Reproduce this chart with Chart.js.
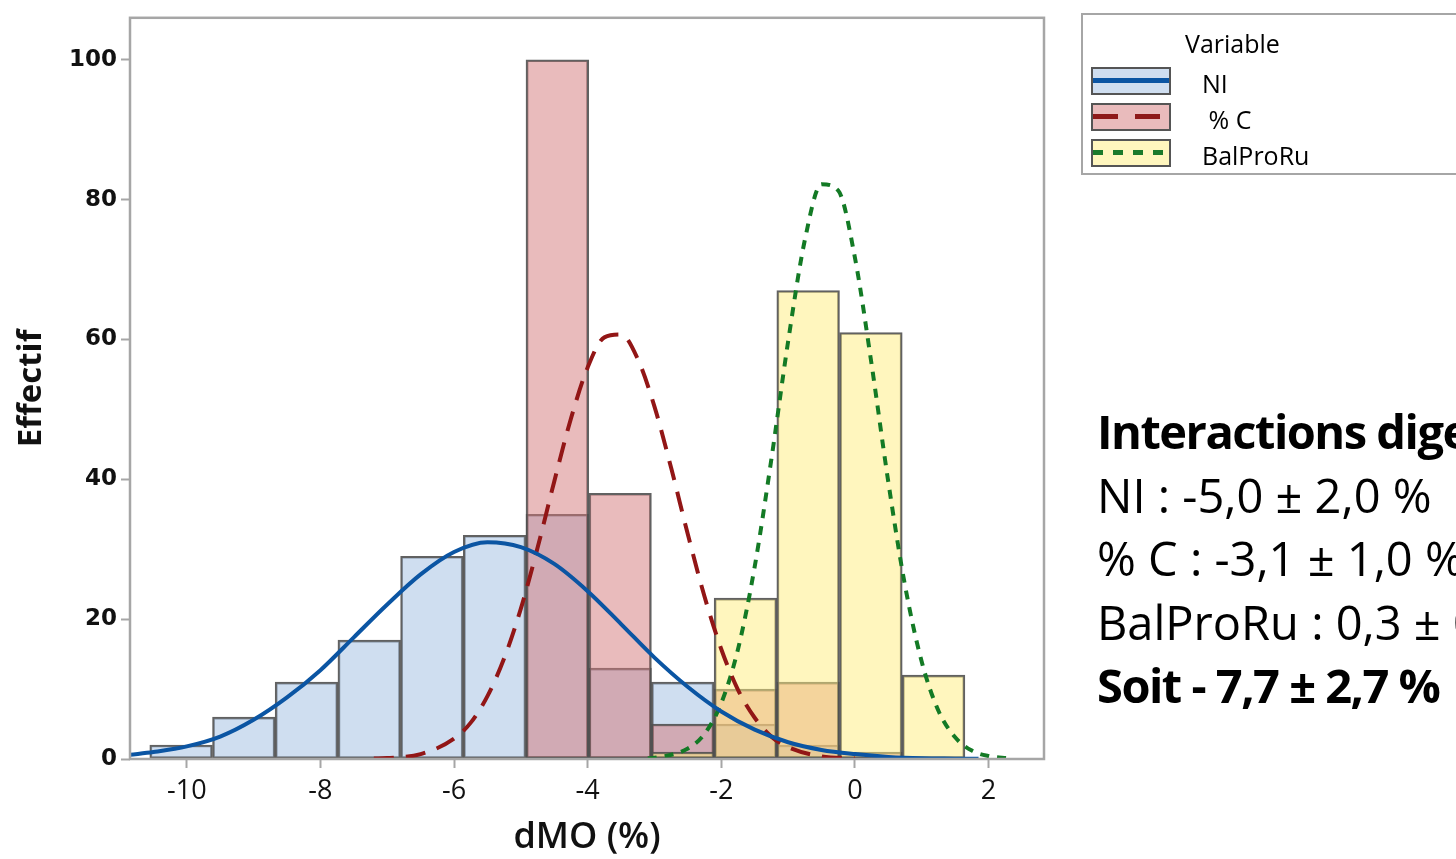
<!DOCTYPE html>
<html>
<head>
<meta charset="utf-8">
<title>dMO (%)</title>
<script src="https://cdn.jsdelivr.net/npm/chart.js@4.4.1/dist/chart.umd.min.js"></script>
<style>
    body { margin: 0; width: 1456px; height: 859px; overflow: hidden; background: #fff; position: relative; font-family: "Open Sans", sans-serif; color: #000; }
    #wrap { position: absolute; left: 0; top: 0; width: 1456px; height: 859px; }
    #legend { position: absolute; left: 1081px; top: 13px; width: 420px; height: 158px; border: 2px solid #a6a6a6; font-size: 25px; }
    #legend .title { position: absolute; left: 102px; top: 10px; line-height: 36px; }
    #legend .sw { position: absolute; left: 8px; width: 76px; height: 24px; border: 2px solid #555; }
    #legend .sw div { position: absolute; left: 0; right: 0; top: 9px; height: 5px; }
    #legend .lab { position: absolute; left: 119px; line-height: 36px; white-space: pre; }
    #notes { position: absolute; left: 1097px; top: 400px; font-size: 47px; line-height: 63.5px; white-space: pre; }
    #notes b { font-weight: 700; letter-spacing: -1.5px; }
</style>
</head>
<body>
<div id="wrap"><canvas id="hist"></canvas></div>

<div id="legend">
    <div class="title">Variable</div>
    <div class="sw" style="top:52px;background:#cfdef0"><div style="background:#0b55a3"></div></div>
    <div class="lab" style="top:50px">NI</div>
    <div class="sw" style="top:88px;background:#e9bbbc"><div style="background:repeating-linear-gradient(90deg,#8e1a1a 0 25px,transparent 25px 42px)"></div></div>
    <div class="lab" style="top:86px"> % C</div>
    <div class="sw" style="top:124px;background:#fff6be"><div style="background:repeating-linear-gradient(90deg,#1b7a2b 0 10px,transparent 10px 20px)"></div></div>
    <div class="lab" style="top:122px">BalProRu</div>
</div>

<div id="notes"><b>Interactions digestives</b>
NI : -5,0 ± 2,0 %
% C : -3,1 ± 1,0 %
BalProRu : 0,3 ± 0
<b>Soit - 7,7 ± 2,7 %</b></div>

<script>
// histogram bins (centres, dMO %)
var binCenters = [-10.085, -9.146, -8.208, -7.269, -6.331, -5.392, -4.454, -3.515, -2.577, -1.638, -0.700, 0.239, 1.177];
var niCounts   = [2, 6, 11, 17, 29, 32, 35, 13, 11, 5, 2, null, null];
var pcCounts   = [null, null, null, null, null, null, 100, 38, 5, 10, 11, 1, null];
var balCounts  = [null, null, null, null, null, null, null, null, 1, 23, 67, 61, 12];

// fitted normal curves
var niCurveX  = [-10.85, -10.5, -10, -9.5, -9, -8.5, -8, -7.5, -7, -6.5, -6, -5.5, -5, -4.5, -4, -3.5, -3, -2.5, -2, -1.5, -1, -0.5, 0, 0.5, 1, 1.5, 1.85];
var niCurveY  = [0.6, 1.0, 1.8, 3.2, 5.6, 8.8, 12.7, 17.4, 22.1, 26.4, 29.6, 31.0, 30.3, 27.9, 24.0, 19.3, 14.5, 10.3, 6.8, 4.2, 2.4, 1.3, 0.7, 0.3, 0.1, 0.05, 0.02];
var pcCurveX  = [-7.2, -7, -6.5, -6, -5.75, -5.5, -5.25, -5, -4.75, -4.5, -4.25, -4, -3.75, -3.5, -3.25, -3, -2.75, -2.5, -2.25, -2, -1.75, -1.5, -1.25, -1, -0.5, 0];
var pcCurveY  = [0.06, 0.13, 0.7, 2.9, 5.2, 9.0, 14.4, 21.5, 30.2, 39.7, 48.7, 56.0, 60.3, 60.7, 57.2, 50.4, 41.6, 32.1, 23.2, 15.7, 9.9, 5.9, 3.2, 1.7, 0.37, 0.06];
var balCurveX = [-3.1, -3, -2.5, -2.25, -2, -1.75, -1.5, -1.25, -1, -0.75, -0.5, -0.25, 0, 0.25, 0.5, 0.75, 1, 1.25, 1.5, 1.75, 2, 2.3];
var balCurveY = [0.1, 0.17, 1.5, 3.6, 8.0, 15.7, 27.5, 42.9, 59.7, 74.2, 82.2, 81.3, 71.7, 56.4, 39.6, 24.8, 13.9, 6.9, 3.1, 1.2, 0.43, 0.1];

var xTicks = [-10, -8, -6, -4, -2, 0, 2];
var yTicks = [0, 20, 40, 60, 80, 100];

function toPoints(xs, ys) {
    var pts = [];
    for (var i = 0; i < xs.length; i++) {
        pts.push({ x: xs[i], y: ys[i] });
    }
    return pts;
}

function barSet(label, counts, fill, order) {
    return {
        type: "bar",
        label: label,
        data: toPoints(binCenters, counts),
        backgroundColor: fill,
        borderColor: "rgba(80,80,80,0.9)",
        borderWidth: 2,
        borderSkipped: false,
        barPercentage: 1,
        categoryPercentage: 1,
        grouped: false,
        order: order
    };
}

function curveSet(label, xs, ys, color, dash, order) {
    return {
        type: "line",
        label: label,
        data: toPoints(xs, ys),
        borderColor: color,
        borderWidth: 4,
        borderDash: dash,
        pointRadius: 0,
        fill: false,
        cubicInterpolationMode: "monotone",
        order: order
    };
}

var framePlugin = {
    id: "frame",
    afterDatasetsDraw: function (chart) {
        var a = chart.chartArea;
        var ctx = chart.ctx;
        ctx.save();
        ctx.strokeStyle = "#a6a6a6";
        ctx.lineWidth = 2.5;
        ctx.strokeRect(a.left, a.top, a.right - a.left, a.bottom - a.top);
        ctx.restore();
    }
};

new Chart("hist", {
    type: "bar",
    data: {
        datasets: [
            curveSet("NI", niCurveX, niCurveY, "#0b55a3", [], 1),
            curveSet("% C", pcCurveX, pcCurveY, "#921616", [20, 12], 2),
            curveSet("BalProRu", balCurveX, balCurveY, "#137a25", [9, 8], 3),
            barSet("BalProRu", balCounts, "rgba(255,237,125,0.5)", 4),
            barSet("% C", pcCounts, "rgba(211,119,121,0.5)", 5),
            barSet("NI", niCounts, "rgba(159,189,225,0.5)", 6)
        ]
    },
    options: {
        responsive: true,
        maintainAspectRatio: false,
        animation: false,
        events: [],
        layout: { padding: { left: 0, right: 412, top: 14, bottom: 0 } },
        plugins: { legend: { display: false }, tooltip: { enabled: false } },
        scales: {
            x: {
                type: "linear",
                min: -10.85,
                max: 2.83,
                offset: false,
                afterFit: function (scale) { scale.height = 100; },
                afterBuildTicks: function (scale) {
                    scale.ticks = xTicks.map(function (v) { return { value: v }; });
                },
                grid: { offset: false, drawOnChartArea: false, tickLength: 9, tickWidth: 2, tickColor: "#a6a6a6" },
                border: { display: false },
                ticks: { color: "#111", padding: 7, font: { family: "Open Sans", size: 27 } },
                title: { display: true, text: "dMO (%)", color: "#111", padding: 0, font: { family: "Open Sans", size: 36, weight: "600" } }
            },
            y: {
                min: 0,
                max: 106,
                afterFit: function (scale) { scale.width = 130; },
                afterBuildTicks: function (scale) {
                    scale.ticks = yTicks.map(function (v) { return { value: v }; });
                },
                grid: { drawOnChartArea: false, tickLength: 9, tickWidth: 2, tickColor: "#a6a6a6" },
                border: { display: false },
                ticks: { color: "#111", padding: 4, font: { family: "DejaVu Sans", size: 23, weight: "bold" } },
                title: { display: true, text: "Effectif", color: "#111", padding: 12, font: { family: "Open Sans", size: 33, weight: "bold" } }
            }
        }
    },
    plugins: [framePlugin]
});
</script>
</body>
</html>
